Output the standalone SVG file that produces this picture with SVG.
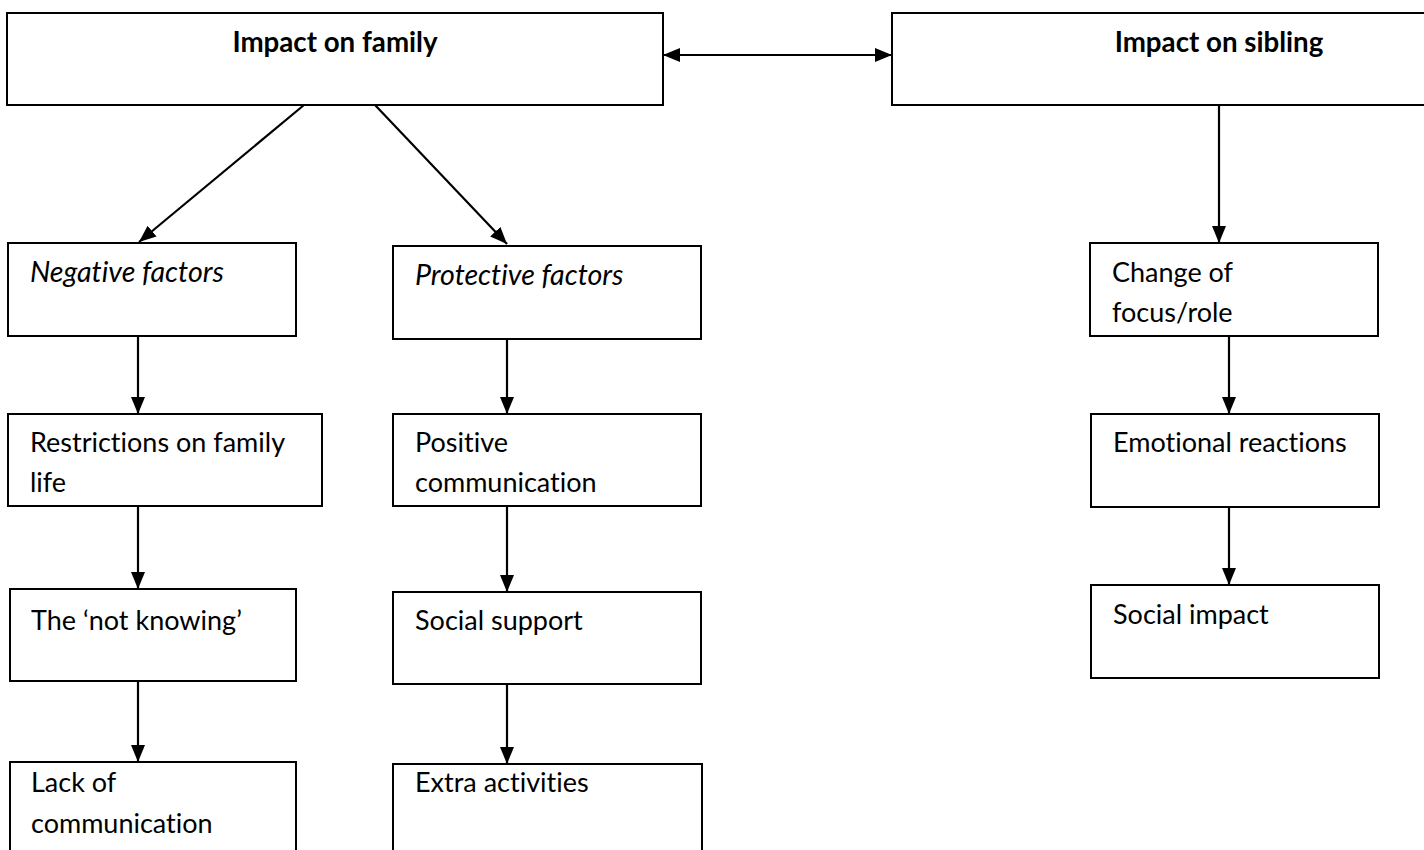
<svg xmlns="http://www.w3.org/2000/svg" width="1424" height="850" viewBox="0 0 1424 850">
<style>
.box{fill:#fff;stroke:#000;stroke-width:2}
.t{font-family:Lato,"Liberation Sans",sans-serif;font-size:27px;fill:#000;font-variant-ligatures:none}
.b{font-weight:bold;font-size:27.7px}
.i{font-style:italic;font-size:28.6px}
.c{stroke:#000;stroke-width:2.2;fill:none;marker-end:url(#ah)}
</style>
<defs>
<marker id="ah" viewBox="0 0 17 14" refX="17" refY="7" markerWidth="17" markerHeight="14" markerUnits="userSpaceOnUse" orient="auto-start-reverse">
<path d="M0,0 L17,7 L0,14 z" fill="#000"/>
</marker>
</defs>
<rect width="1424" height="850" fill="#fff"/>
<g id="family"><rect class="box" x="7" y="13" width="656" height="92"/><text class="t b" x="335" y="52" text-anchor="middle">Impact on family</text></g>
<g id="sibling"><rect class="box" x="892" y="13" width="560" height="92"/><text class="t b" x="1219" y="52" text-anchor="middle">Impact on sibling</text></g>
<g id="negative"><rect class="box" x="8" y="243" width="288" height="93"/><text class="t i" x="30" y="282">Negative factors</text></g>
<g id="protective"><rect class="box" x="393" y="246" width="308" height="93"/><text class="t i" x="415" y="285">Protective factors</text></g>
<g id="change"><rect class="box" x="1090" y="243" width="288" height="93"/><text class="t" x="1112" y="282">Change of</text><text class="t" x="1112" y="322">focus/role</text></g>
<g id="restrictions"><rect class="box" x="8" y="414" width="314" height="92"/><text class="t" x="30" y="452">Restrictions on family</text><text class="t" x="30" y="492">life</text></g>
<g id="positive"><rect class="box" x="393" y="414" width="308" height="92"/><text class="t" x="415" y="452">Positive</text><text class="t" x="415" y="492">communication</text></g>
<g id="emotional"><rect class="box" x="1091" y="414" width="288" height="93"/><text class="t" x="1113" y="452">Emotional reactions</text></g>
<g id="notknowing"><rect class="box" x="10" y="589" width="286" height="92"/><text class="t" x="31" y="630">The ‘not knowing’</text></g>
<g id="socialsupport"><rect class="box" x="393" y="592" width="308" height="92"/><text class="t" x="415" y="630">Social support</text></g>
<g id="socialimpact"><rect class="box" x="1091" y="585" width="288" height="93"/><text class="t" x="1113" y="624">Social impact</text></g>
<g id="lack"><rect class="box" x="10" y="762" width="286" height="110"/><text class="t" x="31" y="792">Lack of</text><text class="t" x="31" y="833">communication</text></g>
<g id="extra"><rect class="box" x="393" y="764" width="309" height="110"/><text class="t" x="415" y="792">Extra activities</text></g>
<g id="connectors">
<line x1="663" y1="55" x2="892" y2="55" stroke="#000" stroke-width="2.2" marker-start="url(#ah)" marker-end="url(#ah)"/>
<line class="c" x1="304" y1="105" x2="139" y2="242"/>
<line class="c" x1="375" y1="105" x2="507" y2="244"/>
<line class="c" x1="1219" y1="105" x2="1219" y2="243"/>
<line class="c" x1="138" y1="336" x2="138" y2="414"/>
<line class="c" x1="138" y1="506" x2="138" y2="589"/>
<line class="c" x1="138" y1="681" x2="138" y2="762"/>
<line class="c" x1="507" y1="339" x2="507" y2="414"/>
<line class="c" x1="507" y1="506" x2="507" y2="592"/>
<line class="c" x1="507" y1="684" x2="507" y2="764"/>
<line class="c" x1="1229" y1="336" x2="1229" y2="414"/>
<line class="c" x1="1229" y1="507" x2="1229" y2="585"/>
</g>
</svg>
